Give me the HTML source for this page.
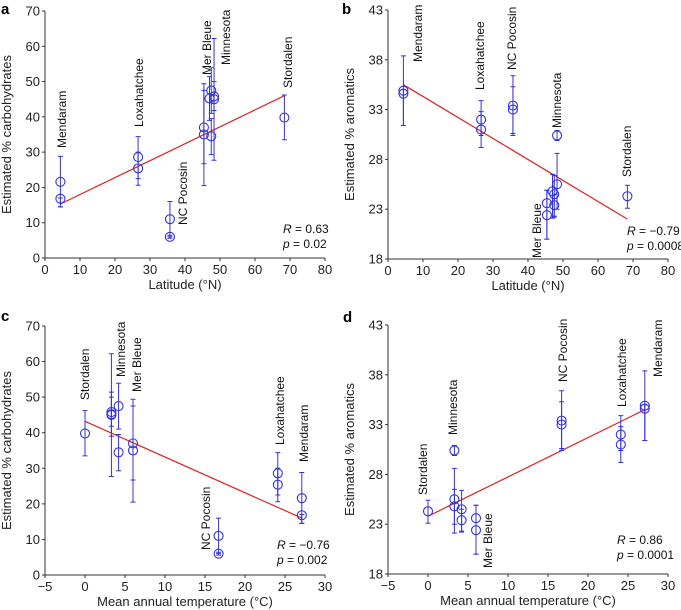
<!DOCTYPE html>
<html><head><meta charset="utf-8"><style>
body{margin:0;background:#fff;}
svg{display:block;font-family:"Liberation Sans",Arial,sans-serif;}
</style></head><body>
<svg id="chart" width="681" height="610"></svg>
<script>
// ---- data ----
const sites = ["Mendaram","Mendaram","Loxahatchee","Loxahatchee","NC Pocosin","NC Pocosin","Mer Bleue","Mer Bleue","Minnesota","Minnesota","Minnesota","Minnesota","Minnesota","Stordalen"];
const latitude = [4.4,4.4,26.6,26.6,35.7,35.7,45.4,45.4,47.5,47.0,48.3,48.3,47.5,68.4];
const meanTemp = [27.1,27.1,24.1,24.1,16.7,16.7,6.0,6.0,4.2,3.3,3.3,3.3,4.2,0];
const carbs   = [21.6,16.8,28.6,25.4,11.0,6.0,37.0,35.0,47.5,45.2,45.8,45.0,34.5,39.8];
const carbsLo = [14.5,14.5,22.5,20.6,6.0,5.6,26.7,20.5,41.0,39.0,27.7,41.8,29.3,33.5];
const carbsHi = [28.8,17.0,34.4,30.0,16.0,6.4,49.4,47.5,53.9,51.4,62.2,50.0,39.5,46.2];
const arom    = [34.9,34.6,32.0,31.0,33.4,33.0,23.6,22.4,24.5,24.8,25.5,30.4,23.4,24.3];
const aromLo  = [31.4,31.4,30.4,29.2,30.6,30.4,20.0,20.0,22.3,22.1,23.0,29.9,22.2,23.1];
const aromHi  = [38.4,35.0,33.9,32.8,36.4,35.3,24.9,24.9,26.4,26.5,28.6,30.9,24.5,25.4];
const fitA = [[4.4,15.3],[68.4,46.0]];
const fitB = [[4.4,35.5],[68.4,22.0]];
const fitC = [[0,43.2],[27.1,16.0]];
const fitD = [[0,23.8],[27.1,34.5]];
const ticksLat = [0,10,20,30,40,50,60,70,80];
const ticksMat = [-5,0,5,10,15,20,25,30];
const ticksCarb = [0,10,20,30,40,50,60,70];
const ticksArom = [18,23,28,33,38,43];

const NS="http://www.w3.org/2000/svg";
const svg=document.getElementById('chart');
function el(tag,attrs,parent){const e=document.createElementNS(NS,tag);for(const k in attrs)e.setAttribute(k,attrs[k]);(parent||svg).appendChild(e);return e;}

function panel(cfg){
  const g=el('g',{});
  
  
  const sx=v=>cfg.x0+(v-cfg.xd[0])/(cfg.xd[1]-cfg.xd[0])*(cfg.x1-cfg.x0);
  const sy=v=>cfg.y0-(v-cfg.yd[0])/(cfg.yd[1]-cfg.yd[0])*(cfg.y0-cfg.y1);
  const ax=el('path',{d:`M${cfg.x0},${cfg.y1}V${cfg.y0}H${cfg.x1}`,stroke:'#333',fill:'none','stroke-width':1},g);
  
  
  cfg.xt.forEach(t=>{const x=sx(t);el('line',{x1:x,x2:x,y1:cfg.y0,y2:cfg.y0+3,stroke:'#333'},g);
    const tx=el('text',{x:x,y:cfg.y0+16,'font-size':13,'text-anchor':'middle',fill:'#222'},g);tx.textContent=t<0?'\u2212'+(-t):t;
    
    });
  cfg.yt.forEach(t=>{const y=sy(t);el('line',{x1:cfg.x0-3,x2:cfg.x0,y1:y,y2:y,stroke:'#333'},g);
    const tx=el('text',{x:cfg.x0-5,y:y+4.5,'font-size':13,'text-anchor':'end',fill:'#222'},g);tx.textContent=t;
    
    });
  const xt=el('text',{x:(cfg.x0+cfg.x1)/2,y:cfg.y0+31,'font-size':13,'text-anchor':'middle',fill:'#222'},g);
  xt.textContent=cfg.xtitle;
  
  
  const ym=(cfg.y0+cfg.y1)/2;
  const yt=el('text',{x:cfg.x0-34,y:ym,'font-size':13,'text-anchor':'middle',fill:'#222',transform:`rotate(-90 ${cfg.x0-34} ${ym})`},g);
  yt.textContent=cfg.ytitle;
  
  
  const lt=el('text',{x:cfg.lx,y:cfg.ly,'font-size':15,'font-weight':'bold',fill:'#000'},g);
  lt.textContent=cfg.letter;
  
  
  const fl=el('line',{x1:sx(cfg.fit[0][0]),y1:sy(cfg.fit[0][1]),x2:sx(cfg.fit[1][0]),y2:sy(cfg.fit[1][1]),stroke:'#e02020','stroke-width':1.2},g);
  
  
  cfg.xs.forEach((xv,i)=>{
    const x=sx(xv),y=sy(cfg.ys[i]),lo=sy(cfg.lo[i]),hi=sy(cfg.hi[i]);
    const eb=el('path',{d:`M${x},${lo}V${hi}M${x-2.5},${lo}h5M${x-2.5},${hi}h5`,stroke:'#3333dd','stroke-width':1,fill:'none'},g);
    
    
    const c=el('circle',{cx:x,cy:y,r:4.5,stroke:'#3333dd','stroke-width':1.1,fill:'none'},g);
    
    
  });
  cfg.labels.forEach(l=>{
    const t=el('text',{x:l[1]+4,y:l[2],'font-size':12,fill:'#111',transform:`rotate(-90 ${l[1]+4} ${l[2]})`},g);
    t.textContent=l[0];
    
    
  });
  const r=el('text',{x:cfg.sx,y:cfg.sy,'font-size':12,fill:'#111'},g);
  r.innerHTML='<tspan font-style="italic">R</tspan> = '+cfg.R;
  
  
  const p=el('text',{x:cfg.sx,y:cfg.sy+15,'font-size':12,fill:'#111'},g);
  p.innerHTML='<tspan font-style="italic">p</tspan> = '+cfg.P;
  
  
}
panel({letter:'a',lx:1,ly:14,x0:45,x1:325,y0:258,y1:11,xd:[0,80],yd:[0,70],xt:ticksLat,yt:ticksCarb,
 xs:latitude,ys:carbs,lo:carbsLo,hi:carbsHi,fit:fitA,xtitle:'Latitude (°N)',ytitle:'Estimated % carbohydrates',
 labels:[['Mendaram',62,148],['Loxahatchee',139,127],['NC Pocosin',183,225],['Mer Bleue',207,75],['Minnesota',226,65],['Stordalen',288,88]],
 sx:283,sy:233,R:'0.63',P:'0.02'});
panel({letter:'b',lx:342,ly:14,x0:388,x1:668,y0:259,y1:10,xd:[0,80],yd:[18,43],xt:ticksLat,yt:ticksArom,
 xs:latitude,ys:arom,lo:aromLo,hi:aromHi,fit:fitB,xtitle:'Latitude (°N)',ytitle:'Estimated % aromatics',
 labels:[['Mendaram',418,62],['Loxahatchee',480,90],['NC Pocosin',512,70],['Minnesota',557,128],['Mer Bleue',537,258],['Stordalen',627,177]],
 sx:627,sy:235,R:'\u22120.79',P:'0.0008'});
panel({letter:'c',lx:1,ly:321,x0:45,x1:325,y0:575,y1:326,xd:[-5,30],yd:[0,70],xt:ticksMat,yt:ticksCarb,
 xs:meanTemp,ys:carbs,lo:carbsLo,hi:carbsHi,fit:fitC,xtitle:'Mean annual temperature (°C)',ytitle:'Estimated % carbohydrates',
 labels:[['Stordalen',85,400],['Minnesota',121,377],['Mer Bleue',137,392],['Loxahatchee',280,445],['Mendaram',304,462],['NC Pocosin',206,550]],
 sx:277,sy:549,R:'\u22120.76',P:'0.002'});
panel({letter:'d',lx:343,ly:322,x0:388,x1:668,y0:574,y1:325,xd:[-5,30],yd:[18,43],xt:ticksMat,yt:ticksArom,
 xs:meanTemp,ys:arom,lo:aromLo,hi:aromHi,fit:fitD,xtitle:'Mean annual temperature (°C)',ytitle:'Estimated % aromatics',
 labels:[['Stordalen',423,495],['Minnesota',453,435],['Mer Bleue',488,568],['NC Pocosin',563,382],['Loxahatchee',622,407],['Mendaram',658,377]],
 sx:617,sy:544,R:'0.86',P:'0.0001'});
</script>
</body></html>
